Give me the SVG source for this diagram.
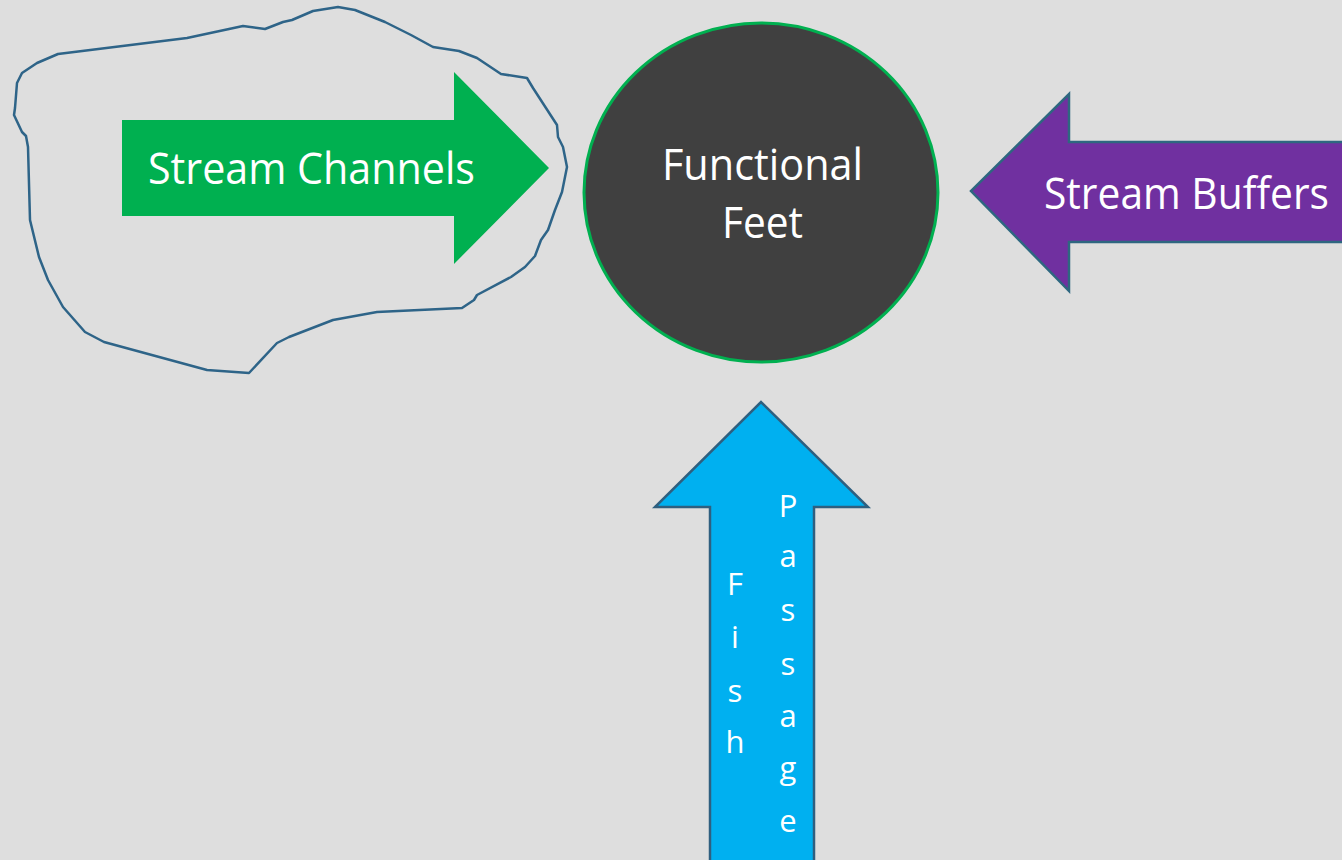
<svg xmlns="http://www.w3.org/2000/svg" width="1342" height="860" viewBox="0 0 1342 860">
<style>
.lbl{font-family:"Open Sans","Noto Sans","Liberation Sans",sans-serif;fill:#ffffff;font-size:43px}
.vt{font-family:"Open Sans","Noto Sans","Liberation Sans",sans-serif;fill:#ffffff;font-size:31px;text-anchor:middle}
</style>
<rect width="1342" height="860" fill="#dedede"/>
<g id="outline">
<path d="M58,54 L187,38 L243,26 L265,29 L283,22 L292,20 L313,11 L338,7 L355,10 L385,22 L411,35 L433,47 L459,51 L477,58 L501,74 L527,78 L533,88 L557,125 L558,137 L563,147 L567,167 L562,192 L555,210 L548,230 L541,240 L535,256 L525,267 L511,277 L477,295 L474,300 L462,308 L377,312 L333,320 L289,337 L277,343 L249,373 L207,370 L104,342 L85,332 L63,307 L48,280 L39,257 L30,220 L28,147 L26,136 L22,132 L14,115 L15,108 L17,83 L22,73 L37,63 Z" fill="none" stroke="#2e6488" stroke-width="2.5" stroke-linejoin="round"/>
</g>
<g id="stream-channels">
<polygon points="122,120 454,120 454,72 549,168 454,264 454,216 122,216" fill="#00b050"/>
<text class="lbl" x="148" y="184" textLength="327" lengthAdjust="spacingAndGlyphs">Stream Channels</text>
</g>
<g id="functional-feet">
<ellipse cx="761" cy="192.5" rx="177" ry="169.5" fill="#404040" stroke="#00b050" stroke-width="3"/>
<text class="lbl" x="662" y="180" textLength="201" lengthAdjust="spacingAndGlyphs">Functional</text>
<text class="lbl" x="722" y="238" textLength="81" lengthAdjust="spacingAndGlyphs">Feet</text>
</g>
<g id="stream-buffers">
<polygon points="1345,142 1069,142 1069,94 971,191 1069,291 1069,242 1345,242" fill="#7030a0" stroke="#2e6780" stroke-width="2.5"/>
<text class="lbl" x="1044" y="209" textLength="285" lengthAdjust="spacingAndGlyphs">Stream Buffers</text>
</g>
<g id="fish-passage">
<polygon points="710,865 710,507 655,507 761,402 868,507 814,507 814,865" fill="#00b0f0" stroke="#2f5f7f" stroke-width="2.5"/>
<text class="vt" x="735" y="595">F</text>
<text class="vt" x="735" y="648">i</text>
<text class="vt" x="735" y="702">s</text>
<text class="vt" x="735" y="753">h</text>
<text class="vt" x="788" y="517">P</text>
<text class="vt" x="788" y="567">a</text>
<text class="vt" x="788" y="621">s</text>
<text class="vt" x="788" y="675">s</text>
<text class="vt" x="788" y="727">a</text>
<text class="vt" x="788" y="779">g</text>
<text class="vt" x="788" y="832">e</text>
</g>
<g id="connectors"></g>
</svg>
